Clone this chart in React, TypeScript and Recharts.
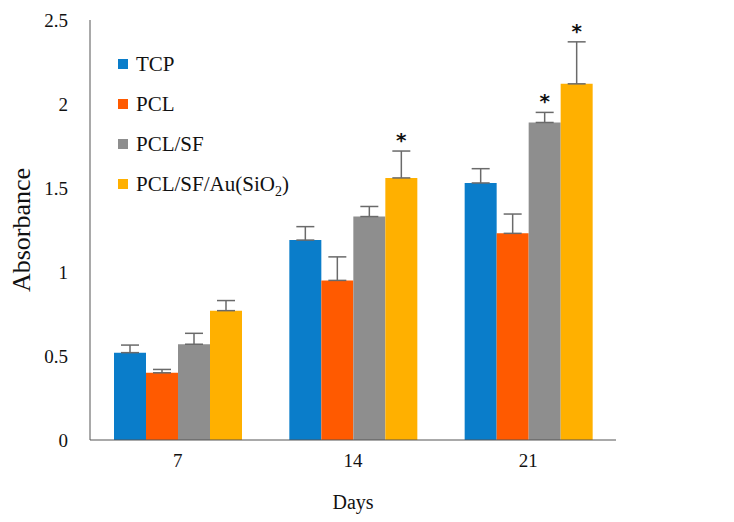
import {
  BarChart, Bar, XAxis, YAxis, ErrorBar, LabelList,
} from "recharts";

const DAYS = ["7", "14", "21"];
const SERIES = ["TCP", "PCL", "PCL/SF", "PCL/SF/Au(SiO2)"];
const TCP = [0.52, 1.19, 1.53];
const PCL = [0.40, 0.95, 1.23];
const PCL_SF = [0.57, 1.33, 1.89];
const PCL_SF_AU = [0.77, 1.56, 2.12];
const TCP_ERR = [0.045, 0.08, 0.085];
const PCL_ERR = [0.02, 0.14, 0.115];
const PCL_SF_ERR = [0.065, 0.06, 0.06];
const PCL_SF_AU_ERR = [0.06, 0.16, 0.25];
const PCL_SF_STAR = [false, false, true];
const PCL_SF_AU_STAR = [false, true, true];
const Y_TICKS = [0, 0.5, 1, 1.5, 2, 2.5];

const COLORS = ["#0a7dca", "#ff5a00", "#8e8e8e", "#ffb000"];
const FONT = "'Liberation Serif', 'Times New Roman', serif";

const data = DAYS.map((day, i) => ({
  day,
  tcp: TCP[i],
  pcl: PCL[i],
  pclSf: PCL_SF[i],
  pclSfAu: PCL_SF_AU[i],
  tcpErr: [0, TCP_ERR[i]],
  pclErr: [0, PCL_ERR[i]],
  pclSfErr: [0, PCL_SF_ERR[i]],
  pclSfAuErr: [0, PCL_SF_AU_ERR[i]],
}));

// ─── Significance star above the error bar ────────────────────────────────────
const makeStar = (flags: boolean[], errs: number[]) => (props: any) => {
  const { x, y, width, height, value, index } = props;
  if (!flags[index] || !value) return null;
  const errTop = y - errs[index] * (height / value);
  return (
    <text
      x={x + width / 2}
      y={errTop - 4}
      textAnchor="middle"
      fontFamily="'DejaVu Sans', sans-serif"
      fontWeight="bold"
      fontSize={20}
      fill="#111"
    >
      *
    </text>
  );
};

// ─── Legend overlay (kept outside the chart so it doesn't eat plot space) ─────
const CustomLegend = () => (
  <div
    style={{
      position: "absolute", left: 118, top: 44, whiteSpace: "nowrap",
      fontFamily: FONT, fontSize: 21, color: "#111",
    }}
  >
    {SERIES.map((name, i) => (
      <div key={name} style={{ display: "flex", alignItems: "center", height: 40 }}>
        <span
          style={{
            display: "inline-block", width: 10, height: 10,
            backgroundColor: COLORS[i], marginRight: 8,
          }}
        />
        {name === "PCL/SF/Au(SiO2)" ? (
          <span>PCL/SF/Au(SiO<sub style={{ fontSize: 14, lineHeight: 0 }}>2</sub>)</span>
        ) : (
          <span>{name}</span>
        )}
      </div>
    ))}
  </div>
);

export default function App() {
  const tick = { fontFamily: FONT, fontSize: 19, fill: "#111" };
  return (
    <div style={{ position: "absolute", left: 0, top: 0, width: 734, height: 522, background: "#fff" }}>
      <BarChart
        width={734}
        height={522}
        data={data}
        margin={{ top: 20, right: 118, left: 0, bottom: 0 }}
        barCategoryGap={24}
        barGap={0}
      >
        <XAxis
          dataKey="day"
          height={82}
          tickSize={0}
          tickMargin={14}
          tick={tick}
          stroke="#555"
          label={{
            value: "Days", position: "insideBottom", offset: 13,
            style: { fontFamily: FONT, fontSize: 20, fill: "#111" },
          }}
        />
        <YAxis
          width={90}
          domain={[0, 2.5]}
          ticks={Y_TICKS}
          tickSize={0}
          tickMargin={22}
          tick={tick}
          stroke="#555"
          label={{
            value: "Absorbance", angle: -90, position: "insideLeft", offset: 21,
            style: { fontFamily: FONT, fontSize: 26, fill: "#111", textAnchor: "middle" },
          }}
        />
        <Bar dataKey="tcp" name={SERIES[0]} fill={COLORS[0]} isAnimationActive={false}>
          <ErrorBar dataKey="tcpErr" width={9} stroke="#6a6a6a" strokeWidth={1.5} direction="y" />
        </Bar>
        <Bar dataKey="pcl" name={SERIES[1]} fill={COLORS[1]} isAnimationActive={false}>
          <ErrorBar dataKey="pclErr" width={9} stroke="#6a6a6a" strokeWidth={1.5} direction="y" />
        </Bar>
        <Bar dataKey="pclSf" name={SERIES[2]} fill={COLORS[2]} isAnimationActive={false}>
          <ErrorBar dataKey="pclSfErr" width={9} stroke="#6a6a6a" strokeWidth={1.5} direction="y" />
          <LabelList dataKey="pclSf" content={makeStar(PCL_SF_STAR, PCL_SF_ERR)} />
        </Bar>
        <Bar dataKey="pclSfAu" name={SERIES[3]} fill={COLORS[3]} isAnimationActive={false}>
          <ErrorBar dataKey="pclSfAuErr" width={9} stroke="#6a6a6a" strokeWidth={1.5} direction="y" />
          <LabelList dataKey="pclSfAu" content={makeStar(PCL_SF_AU_STAR, PCL_SF_AU_ERR)} />
        </Bar>
      </BarChart>
      <CustomLegend />
    </div>
  );
}
